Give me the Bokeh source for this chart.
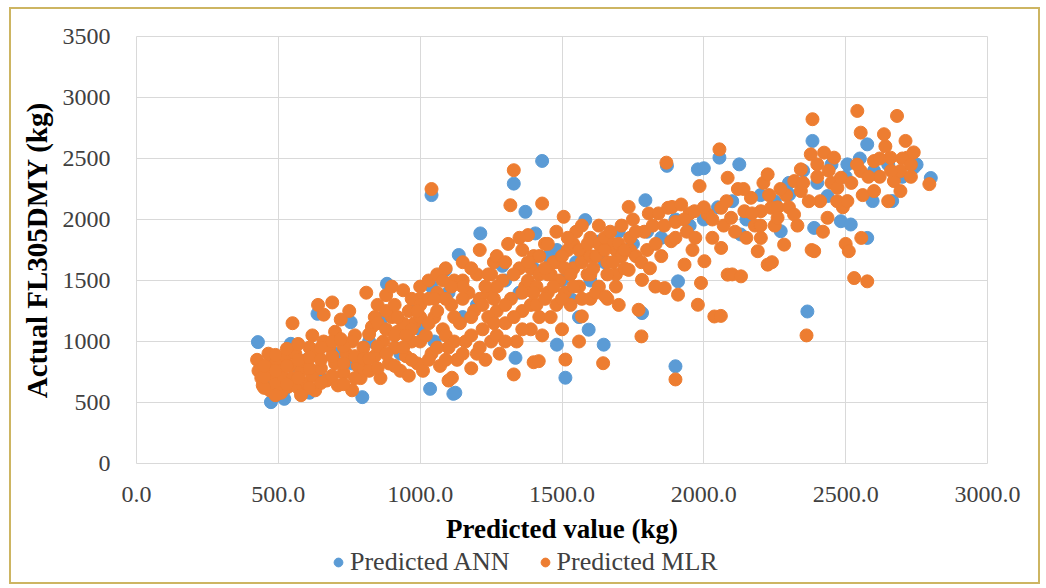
from bokeh.plotting import figure
from bokeh.layouts import column
from bokeh.models import (FixedTicker, PrintfTickFormatter, Legend, LegendItem,
                          Range1d)
from bokeh.embed import file_html
from bokeh.resources import INLINE

# ---------------- data ----------------
x_ticks = [0, 500, 1000, 1500, 2000, 2500, 3000]
y_ticks = [0, 500, 1000, 1500, 2000, 2500, 3000, 3500]
series_names = ["Predicted ANN", "Predicted MLR"]

# Predicted ANN (blue): (predicted value, actual FL305DMY)
ann_points = [
    (428, 995), (474, 503), (521, 530), (544, 981), (638, 1227), (755, 1158),
    (796, 544), (883, 1473), (1035, 612), (1117, 571), (1040, 2200), (1124, 580),
    (1089, 1587), (1136, 1709), (1212, 1886), (1330, 2294), (1371, 2063),
    (1406, 1886), (1430, 2480), (1482, 1750), (1482, 974), (1512, 703),
    (1535, 1342), (1582, 1995), (1594, 1097), (1629, 1818), (1647, 974),
    (1336, 866), (1782, 1233), (1794, 2158), (1870, 2440), (1900, 797),
    (1909, 1493), (1979, 2411), (2000, 2420), (2055, 2507), (2125, 2452),
    (2130, 1877), (2271, 1904), (2301, 2205), (2365, 1246), (2383, 2644),
    (2389, 1931), (2436, 2192), (2483, 1986), (2506, 2452), (2518, 1959),
    (2576, 1849), (2576, 2616), (2595, 2151), (2664, 2151), (2740, 2425),
    (2800, 2340), (440, 780), (460, 620), (480, 860), (500, 700), (520, 600),
    (560, 760), (600, 850), (650, 700), (700, 900), (760, 820), (820, 1000),
    (870, 1200), (930, 900), (980, 1300), (1000, 1100), (1050, 1000),
    (1100, 1400), (1150, 1200), (1200, 1300), (1250, 1200), (1300, 1500),
    (1350, 1400), (1400, 1600), (1450, 1700), (1500, 1500), (1550, 1650),
    (1600, 1500), (1650, 1650), (1700, 1700), (1750, 1800), (1800, 1900),
    (1850, 1850), (1900, 2000), (1950, 1950), (2000, 2000), (2050, 2100),
    (2100, 2150), (2150, 2000), (2200, 2200), (2250, 2150), (2300, 2300),
    (2350, 2400), (2400, 2300), (2450, 2450), (2500, 2350), (2550, 2500),
    (2600, 2400), (2650, 2450), (2700, 2350), (2750, 2450), (495, 560),
    (610, 580), (1040, 1450), (1290, 1620), (1560, 1200), (1700, 1900),
]

# Predicted MLR (orange)
mlr_points = [
    (425, 850), (430, 760), (440, 700), (445, 640), (460, 800), (465, 900),
    (470, 600), (480, 720), (490, 650), (495, 840), (505, 760), (510, 580),
    (520, 700), (525, 880), (535, 630), (540, 800), (550, 1150),
    (550, 700), (560, 900), (570, 620), (580, 760), (590, 840), (600, 660),
    (610, 950), (620, 720), (630, 600), (640, 880), (650, 780), (640, 1300),
    (660, 1220), (670, 680), (680, 960), (690, 1320), (700, 820), (710, 640),
    (720, 1180), (730, 740), (740, 900), (750, 1250), (760, 600), (770, 1050),
    (780, 800), (790, 700), (800, 950), (700, 1080), (660, 1000), (760, 1000),
    (450, 620), (450, 710), (450, 800), (490, 560), (490, 760), (490, 890),
    (530, 650), (530, 800), (530, 940), (570, 700), (570, 850), (570, 980),
    (610, 620), (610, 780), (610, 870), (650, 660), (650, 850), (650, 950),
    (690, 720), (690, 880), (690, 1000), (730, 650), (730, 820), (730, 960),
    (770, 700), (770, 880), (800, 780), (800, 860), (620, 1050), (720, 1020),
    (580, 560),
    (810, 1400), (820, 760), (830, 1120), (840, 880), (850, 1300), (860, 700),
    (870, 1000), (880, 1380), (890, 820), (900, 1200), (910, 950), (920, 1080),
    (930, 760), (940, 1420), (950, 880), (960, 1250), (970, 1000), (980, 1150),
    (990, 820), (1000, 1350), (840, 1200), (900, 1450), (960, 720),
    (820, 860), (820, 1060), (850, 780), (850, 960), (850, 1150), (880, 900),
    (880, 1100), (880, 1250), (910, 800), (910, 1050), (910, 1300), (940, 950),
    (940, 1150), (970, 850), (970, 1100), (970, 1350), (1000, 1000),
    (1000, 1200), (1000, 1450), (950, 1050), (1000, 1300), (920, 1200),
    (990, 1250),
    (1010, 760), (1020, 1050), (1030, 1500), (1040, 2250), (1040, 900),
    (1050, 1200), (1060, 1400), (1070, 800), (1080, 1100), (1090, 1600),
    (1100, 680), (1100, 950), (1110, 1300), (1120, 1500), (1130, 850),
    (1140, 1150), (1150, 1650), (1160, 1000), (1170, 1400), (1180, 780),
    (1190, 1250), (1200, 1550), (1200, 900), (1112, 703),
    (1030, 850), (1030, 1150), (1030, 1350), (1060, 950), (1060, 1250),
    (1060, 1550), (1090, 850), (1090, 1050), (1090, 1350), (1120, 1000),
    (1120, 1200), (1150, 900), (1150, 1350), (1150, 1500), (1180, 1050),
    (1180, 1200), (1180, 1600), (1150, 1450), (1110, 1450), (1080, 1500),
    (1050, 1350),
    (1210, 1750), (1220, 1100), (1230, 850), (1240, 1400), (1250, 1000),
    (1260, 1650), (1270, 1250), (1280, 900), (1290, 1500), (1300, 1150),
    (1310, 1800), (1318, 2117), (1320, 1350), (1330, 2404), (1330, 730),
    (1340, 1000), (1350, 1600), (1360, 1250), (1370, 1450),
    (1380, 1872), (1390, 1100), (1400, 830), (1400, 1700), (1270, 1700),
    (1250, 1550), (1350, 1850),
    (1210, 950), (1210, 1350), (1240, 1200), (1240, 1550), (1270, 1050),
    (1270, 1450), (1300, 1300), (1300, 1650), (1300, 1000), (1260, 1350),
    (1230, 1450), (1260, 1150), (1220, 1300),
    (1330, 1200), (1330, 1550), (1360, 1100), (1360, 1400), (1360, 1750),
    (1390, 1300), (1390, 1600), (1420, 1200), (1420, 1700),
    (1410, 1300), (1418, 839), (1420, 1550), (1430, 2131), (1430, 1050),
    (1440, 1800), (1450, 1400), (1460, 1200), (1470, 1650), (1480, 1900),
    (1490, 1500), (1500, 1100), (1506, 2022), (1512, 852),
    (1520, 1750), (1530, 1300), (1540, 1600), (1550, 1900), (1560, 1450),
    (1570, 1206), (1580, 1700), (1590, 1550), (1600, 1850), (1600, 1350),
    (1460, 1550), (1560, 1000),
    (1450, 1550), (1450, 1800), (1480, 1300), (1480, 1650), (1510, 1400),
    (1510, 1600), (1540, 1450), (1540, 1800), (1570, 1350), (1570, 1650),
    (1570, 1950), (1600, 1550), (1600, 1700), (1630, 1450), (1630, 1800),
    (1660, 1650), (1660, 1350), (1690, 1750), (1690, 1550),
    (1380, 1500), (1410, 1450), (1440, 1350), (1470, 1450), (1500, 1700),
    (1530, 1550), (1560, 1750), (1590, 1800), (1620, 1700), (1650, 1850),
    (1680, 1800), (1710, 1700), (1740, 1750), (1500, 1350), (1520, 1850),
    (1440, 1600), (1400, 1400), (1380, 1650),
    (1610, 1600), (1620, 1400), (1630, 1950), (1645, 822),
    (1650, 1750), (1653, 1369), (1660, 1550), (1670, 1900), (1680, 1650),
    (1690, 1450), (1700, 1800), (1710, 1950), (1720, 1600), (1735, 1587),
    (1735, 2103), (1740, 1850), (1750, 2000), (1760, 1700), (1770, 1260),
    (1780, 1042), (1782, 1505), (1790, 1900), (1806, 2049), (1800, 1750),
    (1700, 1300), (1720, 1750), (1760, 1900), (1780, 1650),
    (1810, 1600), (1820, 1950), (1829, 1450), (1840, 2050), (1850, 1700),
    (1862, 1438), (1868, 2466), (1874, 2096), (1885, 1822), (1888, 2103),
    (1900, 689), (1900, 1980), (1909, 1384), (1920, 2123), (1932, 1630),
    (1940, 1900), (1950, 2050), (1967, 2068), (1979, 1301), (1985, 2274),
    (1990, 1480), (2002, 1658), (2014, 2041), (1960, 1750),
    (1830, 1800), (1860, 1950), (1900, 1850), (1930, 2000), (1970, 1850),
    (2037, 1205), (2055, 2575), (2060, 1210), (2061, 2096), (2061, 1767),
    (2070, 1950), (2084, 2342), (2084, 1548), (2096, 2014), (2100, 1550),
    (2120, 2250), (2131, 1534), (2143, 2068), (2150, 1850), (2166, 2178),
    (2180, 1950), (2190, 1740), (2201, 2068), (2201, 1849), (2210, 2300),
    (2225, 2370), (2225, 1630), (2237, 2096), (2240, 1650), (2250, 1950),
    (2000, 2100), (2030, 2000), (2030, 1850), (2080, 2150), (2110, 1900),
    (2140, 2250), (2170, 2050), (2200, 1950), (2230, 2200), (2260, 2100),
    (2290, 2200),
    (2260, 2014), (2270, 2250), (2283, 1794), (2300, 2100), (2318, 2041),
    (2319, 2315), (2330, 1950), (2342, 2411), (2342, 2233), (2362, 1050),
    (2377, 2534), (2380, 1750), (2383, 2822), (2389, 1740), (2400, 2452),
    (2410, 2150), (2424, 2548), (2436, 2014), (2450, 2300), (2459, 2507),
    (2471, 2260), (2483, 2342), (2500, 1800), (2490, 2100), (2420, 1900),
    (2350, 2300), (2370, 2150), (2400, 2350), (2440, 2400), (2470, 2150),
    (2506, 2151), (2511, 1740), (2530, 1520), (2541, 2890), (2553, 2712),
    (2553, 2397), (2560, 2200), (2576, 1493), (2600, 2479), (2600, 2233),
    (2620, 2350), (2635, 2699), (2650, 2150), (2658, 2507), (2670, 2315),
    (2681, 2849), (2693, 2397), (2693, 2233), (2711, 2644), (2717, 2507),
    (2730, 2350), (2740, 2550), (2795, 2290), (2555, 1849), (2640, 2600),
    (2520, 2300), (2540, 2450), (2580, 2350), (2620, 2500), (2660, 2400),
    (2700, 2500), (2730, 2450),
]

ann_x = [pt[0] for pt in ann_points]
ann_y = [pt[1] for pt in ann_points]
mlr_x = [pt[0] for pt in mlr_points]
mlr_y = [pt[1] for pt in mlr_points]

BLUE = "#5B9BD5"
ORANGE = "#ED7D31"
GRID = "#d9d9d9"
GOLD = "#cdb562"
SERIF = "Liberation Serif"

# ---------------- main scatter ----------------
p = figure(width=1027, height=539, output_backend="svg", toolbar_location=None,
           x_range=Range1d(0, 3000), y_range=Range1d(0, 3500),
           min_border_left=125, min_border_top=27, min_border_right=51,
           min_border_bottom=85)
p.background_fill_color = "white"
p.border_fill_color = "white"
p.outline_line_color = GRID
p.outline_line_width = 1

p.scatter(ann_x, ann_y, size=13, fill_color=BLUE, line_color=BLUE)
p.scatter(mlr_x, mlr_y, size=13, fill_color=ORANGE, line_color=ORANGE)

p.xaxis.ticker = FixedTicker(ticks=x_ticks)
p.yaxis.ticker = FixedTicker(ticks=y_ticks)
p.xaxis.formatter = PrintfTickFormatter(format="%.1f")
for ax in (p.xaxis, p.yaxis):
    ax.axis_line_color = None
    ax.major_tick_line_color = None
    ax.minor_tick_line_color = None
    ax.major_tick_out = 0
    ax.major_tick_in = 0
    ax.minor_tick_out = 0
    ax.major_label_text_font = SERIF
    ax.major_label_text_font_size = "24px"
    ax.major_label_text_color = "#404040"
    ax.axis_label_text_font = SERIF
    ax.axis_label_text_font_style = "bold"
    ax.axis_label_text_color = "#000000"

p.xaxis.axis_label = "Predicted value (kg)"
p.yaxis.axis_label = "Actual FL305DMY (kg)"
p.xaxis.axis_label_text_font_size = "27px"
p.yaxis.axis_label_text_font_size = "29px"
p.yaxis.major_label_standoff = 26
p.xaxis.major_label_standoff = 23
p.xaxis.axis_label_standoff = 9
p.yaxis.axis_label_standoff = 7

p.xgrid.grid_line_color = GRID
p.ygrid.grid_line_color = GRID
p.xgrid.ticker = FixedTicker(ticks=x_ticks)
p.ygrid.ticker = FixedTicker(ticks=y_ticks)

# ---------------- legend strip below ----------------
lg = figure(width=1027, height=34, output_backend="svg", toolbar_location=None,
            x_range=Range1d(0, 1), y_range=Range1d(0, 1),
            x_axis_location=None, y_axis_location=None,
            min_border_left=0, min_border_right=0, min_border_top=0,
            min_border_bottom=0)
lg.grid.visible = False
lg.outline_line_color = None
lg.background_fill_color = "white"
lg.border_fill_color = "white"
d_ann = lg.scatter([-5], [-5], size=13, fill_color=BLUE, line_color=BLUE)
d_mlr = lg.scatter([-5], [-5], size=13, fill_color=ORANGE, line_color=ORANGE)

legend = Legend(items=[LegendItem(label=series_names[0], renderers=[d_ann]),
                       LegendItem(label=series_names[1], renderers=[d_mlr])],
                orientation="horizontal", location=(191, 5))
legend.label_text_font = SERIF
legend.label_text_font_size = "26px"
legend.label_text_color = "#404040"
legend.glyph_width = 22
legend.glyph_height = 22
legend.label_standoff = 1
legend.spacing = 24
legend.padding = 0
legend.margin = 0
legend.border_line_color = None
legend.background_fill_alpha = 0
lg.add_layout(legend)

layout = column(p, lg, spacing=0,
                styles={"margin-left": "9px", "margin-top": "7px",
                        "border": "2px solid " + GOLD})

open("out.html", "w").write(file_html(layout, INLINE))
